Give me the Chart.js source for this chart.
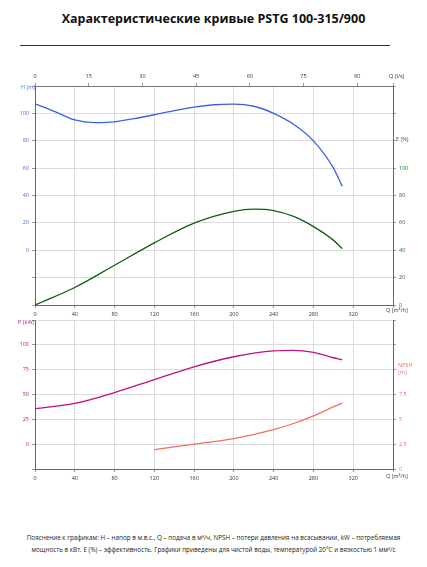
<!DOCTYPE html>
<html><head><meta charset="utf-8">
<script src="https://cdn.jsdelivr.net/npm/chart.js@4"></script>
<style>
body{margin:0;width:427px;height:567px;background:#fff;font-family:"Open Sans",sans-serif;position:relative;overflow:hidden}
#title{position:absolute;top:10px;left:0;width:427px;text-align:center;font-weight:bold;font-size:12.5px;color:#111}
#rule{position:absolute;top:45px;left:20px;width:370px;border-top:1px solid #333}
.cv{position:absolute;left:0}
#note{position:absolute;top:532px;left:0;width:427px;text-align:center;font-size:6.3px;line-height:12px;color:#222}
</style></head><body>
<div id="title">Характеристические кривые PSTG 100-315/900</div>
<div id="rule"></div>
<div class="cv" style="top:66px;width:427px;height:251px"><canvas id="c1"></canvas></div>
<div class="cv" style="top:310px;width:427px;height:173px"><canvas id="c2"></canvas></div>
<div id="note">Пояснение к графикам: H – напор в м.в.с., Q – подача в м³/ч, NPSH – потери давления на всасывании, kW – потребляемая<br>мощность в кВт. E (%) – эффективность.  Графики приведены для чистой воды, температурой 20°C и вязкостью 1 мм²/с</div>
<script>
// Q in m3/h
const qH = [0, 20, 40, 60, 80, 100, 120, 140, 160, 180, 200, 220, 240, 260, 280, 300, 309];
const head = [107, 101.3, 95.2, 93.3, 93.8, 96.2, 99, 102, 104.6, 106.3, 106.8, 105.2, 100, 92, 79.9, 60.2, 46.7];
const qE = [0, 40, 80, 120, 160, 200, 220, 240, 260, 280, 300, 309];
const eff = [0, 12.8, 29, 45.4, 59.8, 68.4, 70, 69, 64.7, 57.3, 47.4, 41.2];
const qP = [0, 40, 80, 120, 160, 200, 240, 260, 280, 300, 309];
const power = [35.6, 41, 52, 65, 77.9, 88, 94, 94.5, 92.4, 87, 85];
const qN = [120, 160, 200, 240, 260, 280, 300, 309];
const npsh = [1.94, 2.5, 3.06, 3.96, 4.58, 5.35, 6.25, 6.63];

const pts = (xs, ys) => xs.map((x, i) => ({x, y: ys[i]}));
const f = {size: 5.5, family: "Open Sans"};
const grid = {color: "#dcdcdc", lineWidth: 1, drawTicks: true, tickLength: 3, tickColor: "#999"};
const fit = w => s => { s.width = w; };
const fitH = h => s => { s.height = h; };

const labels = {
  id: "labels",
  afterDraw(c, a, o) {
    const ctx = c.ctx;
    ctx.save();
    ctx.font = "5.5px Open Sans";
    o.items.forEach(t => {
      ctx.fillStyle = t.color;
      ctx.textAlign = t.align || "left";
      ctx.fillText(t.text, t.x, t.y);
    });
    ctx.restore();
  }
};

function lineDs(data, color, axis) {
  return {data, borderColor: color, borderWidth: 1.3, pointRadius: 0, cubicInterpolationMode: "monotone", yAxisID: axis, fill: false};
}

new Chart(document.getElementById("c1"), {
  type: "line",
  data: {datasets: [lineDs(pts(qH, head), "#3a62e0", "y"), lineDs(pts(qE, eff), "#0b5e10", "y2")]},
  options: {
    responsive: true, maintainAspectRatio: false, animation: false,
    layout: {padding: {top: 4, left: 0, right: 0, bottom: 0}},
    plugins: {legend: {display: false}, tooltip: {enabled: false},
      labels: {items: [
        {text: "H [m]", x: 21, y: 23, color: "#4a6fd8"},
        {text: "Q [l/s]", x: 389, y: 12, color: "#333"},
        {text: "Q [m³/h]", x: 386, y: 246, color: "#333"},
        {text: "E [%]", x: 396, y: 75, color: "#1f6e1f"}
      ]}},
    scales: {
      x: {type: "linear", min: 0, max: 360, ticks: {stepSize: 40, font: f, color: "#333", callback: v => v > 320 ? "" : v}, grid, border: {color: "#666"}, afterFit: fitH(12)},
      x2: {type: "linear", position: "top", min: 0, max: 100, ticks: {stepSize: 15, font: f, color: "#333", callback: v => v > 90 ? "" : v}, grid: {drawOnChartArea: false, tickLength: 3, tickColor: "#999"}, border: {color: "#777"}, afterFit: fitH(16)},
      y: {position: "left", min: -40, max: 120, ticks: {stepSize: 20, font: f, color: "#4a6fd8", callback: v => (v < 0 || v > 100) ? "" : v}, grid, border: {color: "#666"}, afterFit: fit(35)},
      y2: {position: "right", min: 0, max: 160, ticks: {stepSize: 20, font: f, color: "#1f6e1f", callback: v => v > 100 ? "" : v}, grid: {drawOnChartArea: false, tickLength: 3, tickColor: "#999"}, border: {color: "#666"}, afterFit: fit(34)}
    }
  },
  plugins: [labels]
});

new Chart(document.getElementById("c2"), {
  type: "line",
  data: {datasets: [lineDs(pts(qP, power), "#c0127c", "y"), lineDs(pts(qN, npsh), "#f2705e", "y2")]},
  options: {
    responsive: true, maintainAspectRatio: false, animation: false,
    layout: {padding: {top: 10, left: 0, right: 0, bottom: 0}},
    plugins: {legend: {display: false}, tooltip: {enabled: false},
      labels: {items: [
        {text: "P [kW]", x: 18, y: 14, color: "#c0127c"},
        {text: "Q [m³/h]", x: 386, y: 168, color: "#333"},
        {text: "NPSH", x: 398, y: 57, color: "#f2705e"},
        {text: "[m]", x: 398, y: 64, color: "#f2705e"}
      ]}},
    scales: {
      x: {type: "linear", min: 0, max: 360, ticks: {stepSize: 40, font: f, color: "#333", callback: v => v > 320 ? "" : v}, grid, border: {color: "#666"}, afterFit: fitH(14)},
      y: {position: "left", min: -25, max: 125, ticks: {stepSize: 25, font: f, color: "#c0127c", callback: v => (v < 0 || v > 100) ? "" : v}, grid, border: {color: "#666"}, afterFit: fit(35)},
      y2: {position: "right", min: 0, max: 15, ticks: {stepSize: 2.5, font: f, color: "#f2705e", callback: v => v > 7.5 ? "" : v}, grid: {drawOnChartArea: false, tickLength: 3, tickColor: "#999"}, border: {color: "#666"}, afterFit: fit(34)}
    }
  },
  plugins: [labels]
});
</script>
</body></html>
